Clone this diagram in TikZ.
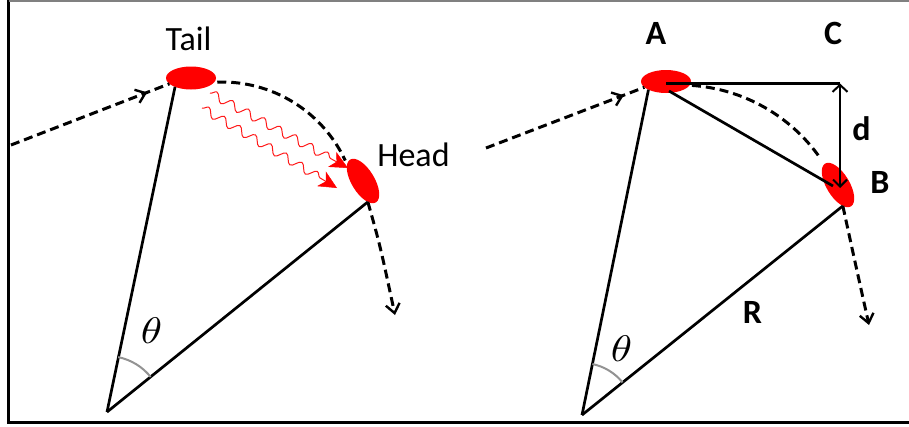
\documentclass[tikz,border=0pt]{standalone}
\usepackage{fontspec}
\setmainfont{Carlito}
\usetikzlibrary{shapes.geometric,decorations.pathmorphing,decorations.markings,arrows.meta}
\begin{document}
\begin{tikzpicture}[x=1pt,y=-1pt,
  blob/.style={ellipse, fill=red, draw=none, minimum width=50pt, minimum height=23pt, inner sep=0pt, outer sep=0pt},
  solidline/.style={line width=2.7pt},
  dashline/.style={line width=3pt, dash pattern=on 9pt off 5pt},
  lbl/.style={font=\fontsize{34}{40}\selectfont, anchor=base, inner sep=0pt},
  blbl/.style={lbl, font=\fontsize{34}{40}\selectfont\bfseries},
  thlbl/.style={xscale=4.3, yscale=3.7, anchor=center, inner sep=0pt},
  barb/.style={-{Straight Barb[length=9pt,width=14pt,line width=2.4pt]}},
  midbarb/.style={postaction={decorate}, decoration={markings, mark=at position #1 with {\arrow{Straight Barb[length=9pt,width=14pt,line width=2.4pt]}}}},
  wavy/.style={draw=red!90!white, line width=1pt, decorate, decoration={snake, amplitude=4.2pt, segment length=18pt, post length=17pt}, -{Stealth[length=18pt,width=17pt,inset=5pt,red,line width=0.5pt]}},
  anglearc/.style={draw=gray!85, line width=2pt},
]
\useasboundingbox (0,0) rectangle (909,426);
% frame
\draw[line width=2.4pt] (8.5,0) -- (8.5,422.5) -- (920,422.5);
\draw[gray, line width=1.2pt] (8.5,1) -- (920,1);

% coordinates
\coordinate (O1) at (107,412);
\coordinate (O2) at (582,415);
\coordinate (in1) at (11,145);
\coordinate (in2) at (486,148);
\coordinate (out1) at (395,315);
\coordinate (out2) at (869,325);
\coordinate (Cc) at (840,83.5);
\coordinate (Cd) at (840,188);
\coordinate (ab1) at (669,91);
\coordinate (ab2) at (833,186);
\coordinate (w1s) at (210,93);
\coordinate (w1e) at (348,168);
\coordinate (w2s) at (202,108);
\coordinate (w2e) at (337,188);

% dashed arcs (behind the blobs)
\draw[dashline] (222,218) ++(-92:136) arc[start angle=-92, end angle=-25, radius=136];
\draw[dashline] (680,256) ++(-86:171) arc[start angle=-86, end angle=-35, radius=171];

% blobs
\node[blob] (tail) at (191,78) {};
\node[blob, rotate=-59] (head) at (363,181) {};
\node[blob] (A) at (666,81.5) {};
\node[blob, rotate=-59] (B) at (838,185) {};

% incoming and outgoing paths
\draw[dashline, midbarb=0.86] (in1) -- (tail.195);
\draw[dashline, midbarb=0.87] (in2) -- (A.195);
\draw[dashline, barb] (head.-18) .. controls (380,245) .. (out1);
\draw[dashline, barb] (B.-18) .. controls (855,262) .. (out2);

% radii
\draw[solidline] (O1) -- (tail.209);
\draw[solidline] (O1) -- (head.-18);
\draw[solidline] (O2) -- (A.205);
\draw[solidline] (O2) -- (B.-18);

% angle arcs
\draw[anglearc] (O1) ++(-78.5:56) arc[start angle=-78.5, end angle=-38.8, radius=56];
\draw[anglearc] (O2) ++(-78.5:52) arc[start angle=-78.5, end angle=-38.8, radius=52];

% right construction
\draw[solidline] (A.center |- Cc) -- (Cc);
\draw[line width=2pt, {Straight Barb[length=7pt,width=15pt]}-{Straight Barb[length=7pt,width=14pt]}] (Cc) -- (Cd);
\draw[solidline] (ab1) -- (ab2);

% wavy arrows
\draw[wavy] (w1s) -- (w1e);
\draw[wavy] (w2s) -- (w2e);

% labels
\node[lbl] (tailL) at (188.5,50.7) {Tail};
\node[lbl] (headL) at (413.5,166) {Head};
\node[blbl] (Al) at (656,44) {A};
\node[blbl] (Cl) at (833,44) {C};
\node[blbl] (dl) at (861.5,140) {d};
\node[blbl] (Bl) at (880,193) {B};
\node[blbl] (Rl) at (752.5,323) {R};
\node[thlbl] (th1) at (151.5,330.5) {$\theta$};
\node[thlbl] (th2) at (621.5,348.5) {$\theta$};
\end{tikzpicture}
\end{document}
